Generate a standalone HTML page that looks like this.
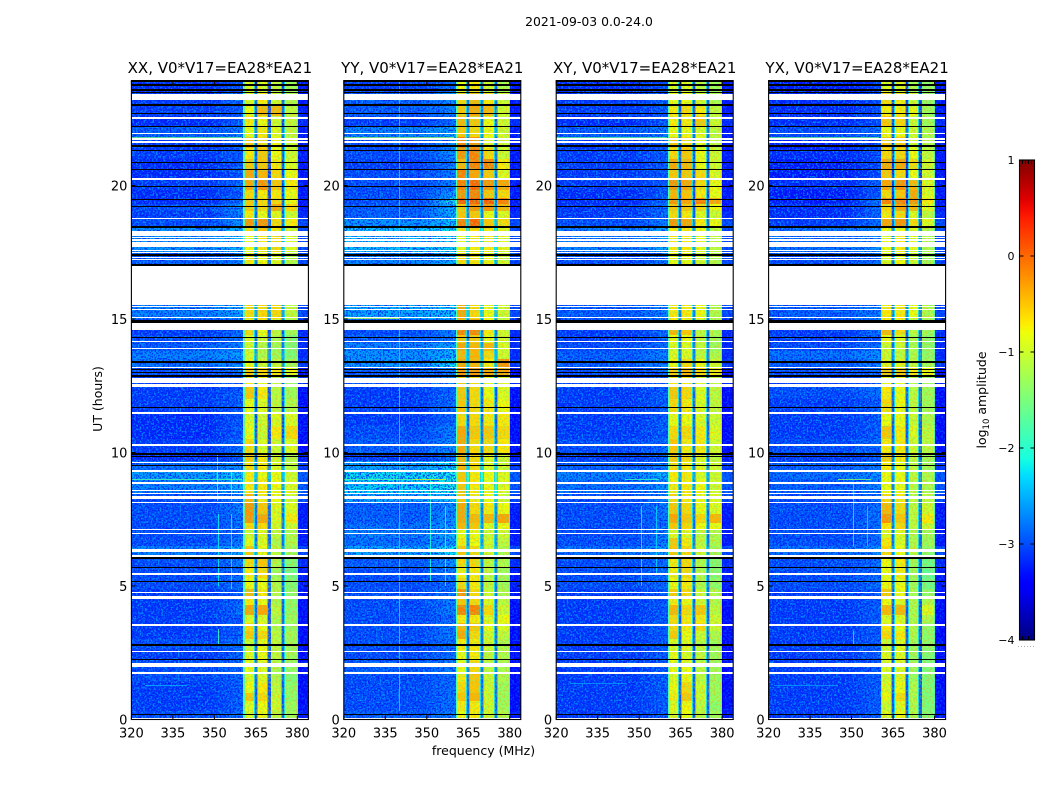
<!DOCTYPE html>
<html lang="en">
<head>
<meta charset="utf-8">
<title>2021-09-03 0.0-24.0</title>
<style>
html,body{margin:0;padding:0;background:#fff;}
svg{display:block;}
text{font-family:"DejaVu Sans","Liberation Sans",sans-serif;fill:#000;}
.cell,.stripe{shape-rendering:crispEdges;}
</style>
</head>
<body>
<svg id="figure" width="1050" height="800" viewBox="0 0 1050 800" xmlns="http://www.w3.org/2000/svg">
  <defs id="defs">
    <filter id="speckle-light" x="0" y="0" width="100%" height="100%" color-interpolation-filters="sRGB">
      <feTurbulence type="fractalNoise" baseFrequency="0.55" numOctaves="1" seed="4"/>
      <feColorMatrix type="matrix" values="0 0 0 0 0  0 0 0 0 0.62  0 0 0 0 1  10 0 0 0 -5"/>
    </filter>
    <filter id="speckle-dark" x="0" y="0" width="100%" height="100%" color-interpolation-filters="sRGB">
      <feTurbulence type="fractalNoise" baseFrequency="0.6" numOctaves="1" seed="11"/>
      <feColorMatrix type="matrix" values="0 0 0 0 0  0 0 0 0 0.1  0 0 0 0 0.95  0 10 0 0 -5"/>
    </filter>
    <filter id="speckle-warm" x="0" y="0" width="100%" height="100%" color-interpolation-filters="sRGB">
      <feTurbulence type="fractalNoise" baseFrequency="0.5" numOctaves="1" seed="23"/>
      <feColorMatrix type="matrix" values="0 0 0 0 1  0 0 0 0 0.6  0 0 0 0 0  10 0 0 0 -5"/>
    </filter>
    <filter id="speckle-green" x="0" y="0" width="100%" height="100%" color-interpolation-filters="sRGB">
      <feTurbulence type="fractalNoise" baseFrequency="0.5" numOctaves="1" seed="37"/>
      <feColorMatrix type="matrix" values="0 0 0 0 0.35  0 0 0 0 1  0 0 0 0 0.55  10 0 0 0 -5"/>
    </filter>
    <linearGradient id="colorbar-gradient" x1="0" y1="1" x2="0" y2="0"></linearGradient>
  </defs>
  <text x="589" y="26" font-size="12.4" text-anchor="middle">2021-09-03 0.0-24.0</text>
  <text x="0" y="0" font-size="12.5" text-anchor="middle" transform="translate(102,399) rotate(-90)">UT (hours)</text>
  <text x="483.5" y="755" font-size="12.5" text-anchor="middle">frequency (MHz)</text>
  <text x="0" y="0" font-size="12.5" text-anchor="middle" transform="translate(986,400) rotate(-90)">log<tspan font-size="8.5" dy="3">10</tspan><tspan dy="-3"> amplitude</tspan></text>
  <g id="panels"></g>
  <g id="colorbar"></g>
</svg>
<script>
// ---------- chart values (log10 amplitude, hours, MHz) ----------
const panelTitles = ["XX, V0*V17=EA28*EA21","YY, V0*V17=EA28*EA21","XY, V0*V17=EA28*EA21","YX, V0*V17=EA28*EA21"];
const freqTicks = [320,335,350,365,380];
const hourTicks = [0,5,10,15,20];
const colorbarTicks = [-4,-3,-2,-1,0,1];
const freqEdges = [320,348,360.5,365,370,375,380,384];
const notchFreqs = [365,370,375];
const hourEdges = [0,.3,.7,1,1.4,1.7,2.2,2.6,3,3.3,3.6,3.9,4.3,4.6,4.9,5.3,5.7,6.1,6.5,6.8,7.1,7.35,7.7,8.1,8.5,9,9.3,9.7,10,10.5,11,11.5,12,12.5,12.9,13.2,13.5,13.8,14.1,14.4,14.6,15,15.6,17,17.5,18.1,18.4,18.8,19.05,19.3,19.55,19.85,20.25,20.6,21,21.4,21.8,22.2,22.6,23,23.5,23.95];
// level above 380 MHz, shared by all panels, one per row
const edgeLevels = [-3.3,-3.4,-3.4,-3.4,-3.4,-3.4,-3.4,-3.4,-3.4,-3.4,-3.4,-3.4,-3.4,-3.4,-3.3,-3.3,-3.2,-3.0,-3.3,-3.3,-3.3,-3.3,-3.3,-3.0,-2.9,-2.9,-3.1,-3.3,-3.4,-3.4,-3.4,-3.4,-3.4,-3.2,-3.4,-3.1,-3.2,-3.2,-3.2,-3.2,-3.2,-3.0,-3.0,-3.0,-3.0,-3.0,-3.0,-3.2,-3.3,-3.3,-3.3,-3.3,-3.3,-3.3,-3.3,-3.3,-3.3,-3.2,-3.3,-3.3,-3.3];
// each row: below 348 MHz, at 360 MHz, then the four bands 360-365, 365-370, 370-375, 375-380
const rowsXX = [
[-3.0,-2.8,-.9,-.8,-1.1,-1.3],[-3.1,-2.9,-.9,-.8,-1.0,-1.3],[-3.1,-2.9,-.5,-.6,-1.0,-1.4],[-3.1,-2.9,-.8,-.7,-1.1,-1.4],
[-3.0,-2.9,-.9,-.9,-1.2,-1.5],[-3.0,-2.8,-.8,-.9,-1.2,-1.4],[-3.1,-2.9,-.9,-.8,-1.1,-1.3],[-3.0,-2.8,-1.0,-.8,-1.1,-1.3],
[-3.1,-2.9,-.5,-.6,-1.1,-1.3],[-3.1,-2.9,-.6,-.8,-1.2,-1.4],[-3.1,-2.9,-.9,-.9,-1.2,-1.3],[-3.1,-2.8,-.3,-.3,-1.1,-1.4],
[-3.1,-2.8,-.7,-.8,-1.2,-1.4],[-3.1,-2.9,-.4,-.7,-1.2,-1.4],[-3.0,-2.8,-.8,-.8,-1.2,-1.5],[-3.0,-2.8,-.7,-.6,-1.3,-1.6],
[-3.0,-2.7,-.6,-.5,-1.2,-1.5],[-2.7,-2.4,-.5,-.8,-1.1,-1.3],[-3.0,-2.7,-.8,-.9,-1.2,-1.2],[-3.0,-2.8,-1.0,-.9,-1.1,-1.2],
[-3.0,-2.8,-.6,-.6,-1.0,-1.0],[-3.0,-2.8,-.2,-.3,-.9,-.7],[-3.0,-2.7,-.2,-.5,-.9,-.9],[-3.0,-2.7,-.4,-.7,-.8,-1.0],
[-2.7,-2.4,-.7,-.7,-.8,-.9],[-2.55,-2.3,-.7,-.8,-.8,-1.0],[-2.8,-2.6,-.6,-.7,-.9,-1.1],[-3.2,-2.9,-.5,-.7,-1.0,-1.2],
[-3.1,-2.8,-.6,-.9,-1.0,-.9],[-3.2,-2.9,-.8,-1.0,-.7,-.6],[-3.2,-2.9,-.9,-1.0,-.9,-.9],[-3.1,-2.9,-.8,-.9,-1.1,-1.2],
[-3.1,-2.9,-.5,-.7,-1.1,-1.3],[-3.1,-2.9,-.7,-.8,-1.1,-1.4],[-3.0,-2.8,-.5,-.6,-.7,-.8],[-2.8,-2.6,-.8,-1.0,-1.1,-1.3],
[-2.7,-2.5,-1.0,-1.2,-1.3,-1.5],[-2.9,-2.7,-1.0,-1.2,-1.3,-1.5],[-3.0,-2.8,-.9,-1.0,-1.2,-1.5],[-3.1,-2.8,-.6,-.8,-1.1,-1.3],
[-3.0,-2.8,-.7,-.7,-1.0,-1.2],[-2.7,-2.5,-.6,-.6,-.6,-1.1],null,
[-2.9,-2.7,-.7,-.8,-.9,-1.2],[-2.6,-2.4,-.8,-.7,-.6,-.9],[-2.6,-2.4,-.6,-.5,-.7,-1.0],[-3.0,-2.6,-.2,-.2,-.6,-.7],
[-3.1,-2.7,-.7,-.8,-.9,-1.0],[-3.0,-2.6,-.5,-.6,-.3,-.6],[-3.2,-2.8,-.5,-.6,-.6,-.8],[-3.2,-2.9,-.6,-.7,-.7,-.8],
[-3.1,-2.8,-.3,-.2,-.5,-.7],[-3.2,-2.9,-.3,-.4,-.6,-.8],[-3.2,-2.9,-.5,-.5,-.7,-.9],[-3.1,-2.9,-.7,-.5,-.8,-1.0],
[-3.1,-2.9,-.5,-.6,-.8,-1.0],[-2.9,-2.7,-.8,-.7,-.9,-1.1],[-3.2,-2.9,-.7,-.8,-1.0,-1.1],[-3.1,-2.9,-.8,-.4,-.4,-1.1],
[-3.1,-2.8,-.9,-.7,-1.0,-1.2],[-3.2,-3.0,-.9,-.9,-1.1,-1.3],[-2.9,-2.6,-.5,-.5,-.7,-.9]];
const rowsYY = [
[-2.9,-2.7,-.8,-.7,-1.0,-1.2],[-3.0,-2.8,-.7,-.7,-1.0,-1.3],[-3.0,-2.8,-.5,-.4,-1.0,-1.3],[-3.0,-2.8,-.6,-.5,-1.0,-1.3],
[-3.0,-2.8,-.7,-.5,-1.0,-1.2],[-2.9,-2.7,-.8,-.6,-1.1,-1.2],[-3.0,-2.8,-.8,-.7,-1.1,-1.2],[-3.0,-2.8,-.7,-.7,-1.0,-1.2],
[-3.0,-2.7,-.3,-.6,-1.0,-1.1],[-3.0,-2.7,-.4,-.5,-.8,-.9],[-3.0,-2.8,-.7,-.7,-.9,-.8],[-3.0,-2.7,-.1,-.1,-.6,-1.0],
[-3.0,-2.7,-.5,-.6,-.9,-1.1],[-3.0,-2.8,-.2,-.6,-1.0,-1.2],[-3.0,-2.8,-.6,-.7,-1.1,-1.3],[-3.0,-2.7,-.7,-.7,-1.1,-1.3],
[-2.9,-2.6,-.6,-.6,-1.1,-1.2],[-2.5,-2.2,-.5,-.6,-1.0,-1.2],[-2.8,-2.5,-.7,-.8,-1.0,-1.1],[-2.7,-2.4,-.8,-.8,-1.0,-1.0],
[-2.8,-2.5,-.4,-.5,-.9,-.8],[-2.9,-2.6,-.3,-.4,-.4,-.3],[-2.9,-2.6,-.3,-.6,-.7,-.8],[-2.5,-2.3,-.5,-.7,-.8,-1.0],
[-2.25,-2.1,-.5,-.7,-.8,-.9],[-2.2,-2.1,-.5,-.7,-.8,-.9],[-2.5,-2.2,-.4,-.6,-.9,-1.0],[-3.1,-2.8,-.4,-.6,-.9,-1.0],
[-2.9,-2.6,-.3,-.6,-.6,-.7],[-3.0,-2.7,-.3,-.5,-.5,-.6],[-3.1,-2.8,-.6,-.6,-.7,-.7],[-3.1,-2.8,-.5,-.6,-.7,-.8],
[-3.1,-2.8,-.5,-.6,-.8,-.9],[-2.9,-2.6,-.5,-.6,-.8,-.9],[-2.9,-2.7,-.2,-.2,-.3,-.3],[-2.6,-2.2,-.3,-.4,-.7,-.2],
[-2.6,-2.4,-.4,-.4,-.6,-1.0],[-2.7,-2.5,-.3,-.4,-.4,-.9],[-2.9,-2.7,-.5,-.5,-.8,-1.0],[-3.0,-2.7,-.1,-.1,-.7,-1.0],
[-2.9,-2.6,-.4,-.3,-.8,-1.0],[-2.5,-2.3,-.3,-.6,-.8,-1.0],null,
[-2.7,-2.4,-.6,-.7,-.8,-1.0],[-2.35,-2.2,-.8,-.7,-.7,-.9],[-2.3,-2.2,-.7,-.6,-.7,-.9],[-2.6,-2.3,-.1,.05,-.5,-.6],
[-2.9,-2.4,-.5,-.5,-.8,-.9],[-2.9,-2.4,-.5,-.2,-.2,-.4],[-3.0,-2.1,.1,.1,.1,-.1],[-3.0,-2.5,-.2,-.1,-.5,-.6],
[-3.0,-2.7,-.1,.05,-.2,-.3],[-3.0,-2.7,-.1,-.3,-.5,-.9],[-3.1,-2.7,-.4,-.1,-.1,-.7],[-3.0,-2.6,-.2,-.1,-.6,-1.0],
[-3.0,-2.6,-.1,-.2,-.9,-1.0],[-2.7,-2.5,-.5,-.6,-.8,-1.0],[-3.1,-2.8,-.4,-.5,-.8,-1.0],[-2.9,-2.7,-.5,-.3,-.4,-1.0],
[-2.9,-2.6,-.6,-.4,-.7,-1.0],[-3.1,-2.8,-.8,-.7,-1.0,-1.2],[-2.6,-2.3,-.1,.1,-.2,-.6]];
const rowsXY = [
[-3.1,-2.9,-.9,-.8,-1.1,-1.3],[-3.1,-2.9,-.9,-.8,-1.1,-1.4],[-3.1,-2.9,-.7,-.5,-1.0,-1.3],[-3.1,-2.9,-.8,-.6,-1.0,-1.3],
[-3.1,-2.9,-.9,-.8,-1.1,-1.3],[-3.1,-2.9,-.8,-.8,-1.1,-1.3],[-3.1,-2.9,-.8,-.9,-1.1,-1.3],[-3.1,-2.9,-.9,-.9,-1.1,-1.3],
[-3.1,-2.9,-.5,-.8,-1.0,-1.2],[-3.1,-2.9,-.6,-.7,-.6,-1.0],[-3.1,-2.9,-.6,-.7,-.7,-1.0],[-3.1,-2.9,-.4,-.6,-.5,-1.1],
[-3.1,-2.9,-.7,-.8,-1.0,-1.2],[-3.1,-2.9,-.5,-.6,-1.0,-1.2],[-3.0,-2.8,-.8,-.7,-1.2,-1.4],[-3.0,-2.8,-.7,-.6,-1.2,-1.5],
[-3.0,-2.8,-.7,-.6,-1.2,-1.5],[-2.8,-2.5,-.5,-.6,-1.0,-1.3],[-3.0,-2.7,-.5,-.7,-1.1,-1.2],[-3.0,-2.7,-.9,-.9,-1.1,-1.2],
[-3.0,-2.8,-.5,-.6,-.8,-.8],[-3.0,-2.8,-.3,-.5,-.6,-.4],[-3.0,-2.7,-.5,-.6,-.8,-.9],[-3.0,-2.7,-.6,-.7,-.8,-.9],
[-2.8,-2.6,-.7,-.7,-.8,-1.0],[-2.7,-2.4,-.7,-.7,-.9,-1.0],[-2.9,-2.7,-.6,-.7,-.9,-1.0],[-3.1,-2.9,-.5,-.6,-.9,-1.1],
[-3.0,-2.8,-.5,-.7,-.7,-1.0],[-3.1,-2.9,-.6,-.6,-.7,-.9],[-3.1,-2.9,-.8,-.8,-.9,-1.0],[-3.1,-2.9,-.6,-.7,-.9,-1.1],
[-3.1,-2.9,-.5,-.6,-.9,-1.1],[-3.1,-2.9,-.7,-.7,-.9,-1.1],[-3.0,-2.8,-.5,-.4,-.6,-.7],[-2.9,-2.7,-.8,-.6,-.8,-1.0],
[-2.9,-2.7,-.9,-.9,-1.1,-1.2],[-3.0,-2.8,-.9,-.9,-1.1,-1.3],[-3.1,-2.9,-.8,-.8,-1.1,-1.3],[-3.1,-2.8,-.4,-.5,-1.1,-1.2],
[-3.0,-2.8,-.7,-.8,-1.1,-1.3],[-2.9,-2.7,-.7,-.7,-.8,-1.2],null,
[-3.0,-2.8,-.8,-.8,-1.0,-1.2],[-2.7,-2.5,-.7,-.7,-.8,-1.1],[-2.7,-2.5,-.7,-.7,-.8,-1.1],[-3.0,-2.7,-.2,-.3,-.7,-.8],
[-3.1,-2.8,-.6,-.7,-.9,-1.0],[-3.1,-2.8,-.5,-.5,-.6,-.8],[-3.2,-2.8,-.2,-.3,-.1,-.3],[-3.2,-2.9,-.4,-.5,-.7,-.8],
[-3.1,-2.9,-.2,-.3,-.6,-.8],[-3.1,-2.9,-.5,-.5,-.6,-.9],[-3.1,-2.9,-.3,-.4,-.8,-1.0],[-3.1,-2.9,-.6,-.5,-.8,-1.0],
[-3.1,-2.9,-.5,-.6,-.9,-1.1],[-2.9,-2.7,-.8,-.8,-.9,-1.1],[-3.2,-2.9,-.7,-.7,-.5,-1.0],[-3.1,-2.9,-.7,-.6,-.7,-1.1],
[-3.1,-2.9,-.8,-.8,-1.0,-1.2],[-3.2,-3.0,-.9,-.9,-1.1,-1.3],[-3.0,-2.8,-.5,-.5,-.8,-1.0]];
const rowsYX = [
[-3.1,-2.9,-.9,-.8,-1.2,-1.5],[-3.1,-2.9,-1.0,-.9,-1.2,-1.5],[-3.1,-2.9,-.8,-.6,-1.2,-1.5],[-3.1,-2.9,-.9,-.8,-1.2,-1.5],
[-3.1,-2.9,-1.0,-.9,-1.3,-1.5],[-3.1,-2.9,-.9,-.9,-1.3,-1.5],[-3.1,-2.9,-.9,-.9,-1.3,-1.5],[-3.1,-2.9,-1.0,-.9,-1.3,-1.4],
[-3.1,-2.9,-.6,-.7,-1.2,-1.4],[-3.1,-2.9,-.7,-.8,-1.2,-1.4],[-3.1,-2.9,-.9,-.9,-1.2,-1.2],[-3.1,-2.9,-.4,-.4,-1.2,-.9],
[-3.1,-2.9,-.8,-.9,-1.2,-1.2],[-3.1,-2.9,-.5,-.8,-1.2,-1.4],[-3.0,-2.8,-.8,-.8,-1.3,-1.6],[-3.0,-2.8,-.8,-.7,-1.3,-1.7],
[-3.0,-2.8,-.8,-.7,-1.3,-1.6],[-2.8,-2.6,-.6,-.8,-1.1,-1.4],[-3.0,-2.8,-.7,-.9,-1.2,-1.3],[-3.0,-2.8,-.9,-.9,-1.2,-1.3],
[-3.0,-2.8,-.7,-.6,-1.1,-1.0],[-3.0,-2.8,-.2,-.5,-1.1,-.7],[-3.0,-2.8,-.4,-.6,-1.1,-1.0],[-3.0,-2.8,-.6,-.7,-1.1,-1.1],
[-2.9,-2.7,-.8,-.8,-1.1,-1.2],[-2.8,-2.6,-.8,-.8,-1.1,-1.2],[-2.9,-2.7,-.7,-.8,-1.1,-1.3],[-3.1,-2.9,-.5,-.7,-1.1,-1.3],
[-3.0,-2.8,-.7,-.7,-1.0,-1.1],[-3.1,-2.9,-.5,-.7,-.9,-1.1],[-3.1,-2.9,-.8,-.8,-1.0,-1.2],[-3.1,-2.9,-.6,-.8,-1.1,-1.3],
[-3.0,-2.8,-.7,-.8,-1.1,-1.3],[-3.1,-2.9,-.8,-.8,-1.1,-1.3],[-3.0,-2.8,-.5,-.5,-.7,-.8],[-2.9,-2.7,-.9,-.9,-1.1,-1.3],
[-2.8,-2.6,-1.0,-1.1,-1.2,-1.4],[-3.0,-2.8,-1.0,-1.0,-1.2,-1.4],[-3.1,-2.9,-.8,-.9,-1.2,-1.4],[-3.1,-2.8,-.4,-.6,-1.1,-1.3],
[-3.0,-2.8,-.7,-.8,-1.1,-1.3],[-2.9,-2.7,-.7,-.7,-.8,-1.2],null,
[-3.0,-2.8,-.9,-.8,-1.0,-1.3],[-2.8,-2.6,-.8,-.7,-.8,-1.2],[-2.8,-2.6,-.8,-.8,-.9,-1.2],[-3.1,-2.8,-.3,-.2,-.6,-.9],
[-3.2,-2.8,-.7,-.6,-.9,-1.1],[-3.2,-2.8,-.6,-.3,-.4,-.9],[-3.3,-2.7,-.1,-.1,-.2,-.7],[-3.3,-2.9,-.6,-.5,-.3,-.9],
[-3.2,-2.9,-.3,-.2,-.4,-.9],[-3.3,-3.0,-.5,-.6,-.8,-1.0],[-3.3,-3.0,-.3,-.3,-.6,-1.0],[-3.2,-3.0,-.6,-.6,-.8,-1.1],
[-3.3,-3.0,-.5,-.5,-.9,-1.2],[-3.0,-2.8,-.8,-.8,-1.0,-1.2],[-3.2,-3.0,-.5,-.6,-1.0,-1.3],[-3.2,-3.0,-.7,-.7,-.8,-1.3],
[-3.2,-3.0,-.6,-.7,-1.0,-1.4],[-3.3,-3.1,-.9,-.9,-1.2,-1.4],[-3.1,-2.9,-.5,-.6,-.8,-1.2]];
const panelRows = [rowsXX,rowsYY,rowsXY,rowsYX];
// flagged (blank) and dropped (zero) time ranges, start and end hour
const flaggedRanges = [[.02,.07],[1.72,1.77],[1.96,2.13],[2.53,2.58],[3.51,3.56],[4.5,4.62],[4.74,4.79],[5.42,5.47],[6.09,6.16],[6.27,6.37],[6.95,7],[7.1,7.15],[8.09,8.14],[8.25,8.38],[8.44,8.47],[8.55,8.6],[8.83,8.88],[9.27,9.35],[9.61,9.66],[10.25,10.3],[11.45,11.5],[12.46,12.55],[12.62,12.79],[13.17,13.22],[13.88,13.93],[14.12,14.17],[14.58,14.62],[14.64,14.86],[15.04,15.09],[15.32,15.37],[15.46,15.5],[15.54,17],[17.2,17.24],[17.28,17.34],[17.46,17.5],[17.56,17.6],[17.71,17.9],[17.92,17.95],[17.97,18],[18.04,18.07],[18.11,18.3],[18.75,18.8],[20.19,20.27],[21.6,21.65],[21.72,21.77],[21.92,21.97],[22.5,22.55],[23.2,23.41]];
const droppedRanges = [[.17,.22],[2.23,2.28],[2.76,2.81],[5.15,5.2],[5.68,5.73],[6,6.07],[9.5,9.55],[9.82,9.87],[9.92,9.97],[11.67,11.72],[12.82,12.89],[12.97,13.03],[13.09,13.13],[13.36,13.41],[14.28,14.33],[14.86,14.95],[17,17.07],[17.37,17.42],[18.39,18.48],[19.2,19.25],[19.44,19.49],[19.94,19.99],[20.58,20.63],[20.83,20.88],[21.28,21.33],[21.45,21.5],[22.18,22.23],[22.68,22.73],[22.99,23.04],[23.47,23.52],[23.55,23.6],[23.74,23.79],[23.88,23.93]];
// narrow interference: panel, frequency, start hour, end hour, level
const rfiChannels = [[0,351.4,2.8,3.4,-1.9],[0,351.4,5,7.7,-2.2],[0,356,4.9,7.7,-2.2],[0,351,8.2,10,-2],[0,356,8.2,9.3,-2],
[1,339.9,.3,15.5,-2.3],[1,339.9,17.1,23.9,-2.3],[1,351,5.2,9,-2.1],[1,356.5,5,8,-2.1],
[2,350.5,5,8,-2.2],[2,356,5.5,8,-2.3],[3,350.6,6.5,8.9,-2.2],[3,355.6,6.5,8,-2.3],[3,350.6,2.8,3.3,-2.2]];
// narrow time streaks: panel, start MHz, end MHz, hour, level
const rfiStreaks = [[0,320,360,8.97,-1.8],[1,320,345,8.97,-1.7],[1,345,357,8.97,-.9],[3,345,357,8.97,-1.4],[2,345,357,8.97,-1.9],
[1,320,340,15,-1.2],[0,320,360,21.78,-1.6],[1,320,360,21.78,-1.4],[2,320,360,21.78,-1.7],[3,320,360,21.78,-1.6],
[0,325,340,1.28,-2.5],[2,325,345,1.35,-2.6],[3,322,345,1.28,-2.6]];

// ---------- scales ----------
const SVGNS = "http://www.w3.org/2000/svg";
const panelWidth = 177, pxPerMHz = panelWidth/64, pxPerHour = 26.7, axisBottom = 719.5, hourMax = 23.93;
function panelLeft(i){ return 131.4 + i*212.4; }
function xScale(i,f){ return panelLeft(i) + (f-320)*pxPerMHz; }
function yScale(h){ return axisBottom - h*pxPerHour; }
function cbarY(v){ return 640 - (v+4)*96; }
function lerp(pts,t){
  for(let k=1;k<pts.length;k++){
    if(t<=pts[k][0]){
      const a=pts[k-1],b=pts[k];
      return a[1]+(b[1]-a[1])*(t-a[0])/(b[0]-a[0]);
    }
  }
  return pts[pts.length-1][1];
}
function jet(v){
  const t=Math.max(0,Math.min(1,(v+4)/5));
  const r=lerp([[0,0],[.35,0],[.66,1],[.89,1],[1,.5]],t);
  const g=lerp([[0,0],[.125,0],[.375,1],[.64,1],[.91,0],[1,0]],t);
  const b=lerp([[0,.5],[.11,1],[.34,1],[.65,0],[1,0]],t);
  return "rgb("+Math.round(r*255)+","+Math.round(g*255)+","+Math.round(b*255)+")";
}
function mk(tag,attrs,parent){
  const el=document.createElementNS(SVGNS,tag);
  for(const k in attrs){ el.setAttribute(k,attrs[k]); }
  parent.appendChild(el);
  return el;
}
function pixelBox(x0,x1,h0,h1){
  const x=Math.round(x0), w=Math.max(1,Math.round(x1)-x);
  const y=Math.round(yScale(h1)), hh=Math.max(1,Math.round(yScale(h0))-y);
  return {x:x,y:y,width:w,height:hh};
}
const defsEl=document.getElementById("defs");
function rampFill(i,r,from,to){
  const id="ramp-"+i+"-"+r;
  const g=mk("linearGradient",{id:id,x1:0,y1:0,x2:1,y2:0},defsEl);
  mk("stop",{offset:"0%","stop-color":jet(from)},g);
  mk("stop",{offset:"100%","stop-color":jet(to)},g);
  return "url(#"+id+")";
}

// ---------- panels ----------
const panelsRoot=document.getElementById("panels");
panelTitles.forEach(function(title,i){
  const g=mk("g",{},panelsRoot);
  
  
  const rows=panelRows[i];

  // heatmap cells
  rows.forEach(function(row,r){
    if(!row) return;
    const h0=hourEdges[r], h1=hourEdges[r+1];
    const levels=row.concat([edgeLevels[r]]);
    levels.forEach(function(v,c){
      const box=pixelBox(xScale(i,freqEdges[c]),xScale(i,freqEdges[c+1]),h0,h1);
      const fill=(c===1)?rampFill(i,r,row[0],v):jet(v);
      const cell=mk("rect",{x:box.x,y:box.y,width:box.width,height:box.height,fill:fill,"class":"cell"},g);
      
      
    });
    // band edges and notches follow the row level
    const notchLevel=row[0]+.1;
    notchFreqs.forEach(function(f){
      const outer=pixelBox(xScale(i,f-.8),xScale(i,f+.6),h0,h1);
      const side=mk("rect",{x:outer.x,y:outer.y,width:outer.width,height:outer.height,fill:jet(-2.3),"class":"cell"},g);
      
      
      const inner=pixelBox(xScale(i,f-.45),xScale(i,f+.3),h0,h1);
      const core=mk("rect",{x:inner.x,y:inner.y,width:inner.width,height:inner.height,fill:jet(notchLevel),"class":"cell"},g);
      
      
    });
    [360.5,379.7].forEach(function(f){
      const e=pixelBox(xScale(i,f),xScale(i,f+.4),h0,h1);
      const bandEdge=mk("rect",{x:e.x,y:e.y,width:e.width,height:e.height,fill:jet(-1.8),"class":"cell"},g);
      
      
    });
  });

  // receiver noise texture
  [[320,360.5,"speckle-light",.75],[320,360.5,"speckle-dark",.75],[380.2,384,"speckle-light",.4],[380.2,384,"speckle-dark",.7],[360.8,380,"speckle-warm",.3],[360.8,380,"speckle-green",.3]].forEach(function(s){
    const box=pixelBox(xScale(i,s[0]),xScale(i,s[1]),0,hourMax);
    const tex=mk("rect",{x:box.x,y:box.y,width:box.width,height:box.height,filter:"url(#"+s[2]+")",opacity:s[3]},g);
    
    
  });

  // interference
  rfiChannels.forEach(function(d){
    if(d[0]!==i) return;
    const box=pixelBox(xScale(i,d[1]),xScale(i,d[1]+.35),d[2],d[3]);
    const line=mk("rect",{x:box.x,y:box.y,width:box.width,height:box.height,fill:jet(d[4]),"class":"cell",opacity:.85},g);
    
    
  });
  rfiStreaks.forEach(function(d){
    if(d[0]!==i) return;
    const box=pixelBox(xScale(i,d[1]),xScale(i,d[2]),d[3],d[3]+.03);
    const line=mk("rect",{x:box.x,y:box.y,width:box.width,height:box.height,fill:jet(d[4]),"class":"cell",opacity:.8},g);
    
    
  });

  // dropped and flagged time ranges
  droppedRanges.forEach(function(d){
    const box=pixelBox(xScale(i,320),xScale(i,384),d[0],d[1]);
    const s=mk("rect",{x:box.x,y:box.y,width:box.width,height:box.height,fill:"#000","class":"stripe"},g);
    
    
  });
  flaggedRanges.forEach(function(d){
    const box=pixelBox(xScale(i,320),xScale(i,384),d[0],d[1]);
    const s=mk("rect",{x:box.x,y:box.y,width:box.width,height:box.height,fill:"#fff","class":"stripe"},g);
    
    
  });

  // frame
  const left=xScale(i,320), right=xScale(i,384), top=yScale(hourMax), bottom=yScale(0);
  const frame=mk("rect",{x:left,y:top,width:right-left,height:bottom-top,fill:"none",stroke:"#000","stroke-width":1.1},g);
  
  

  // ticks
  freqTicks.forEach(function(f){
    const x=xScale(i,f);
    const t1=mk("line",{x1:x,x2:x,y1:bottom,y2:bottom-4,stroke:"#000","stroke-width":1},g);
    
    
    const t2=mk("line",{x1:x,x2:x,y1:top,y2:top+4,stroke:"#000","stroke-width":1},g);
    
    
    const lab=mk("text",{x:x,y:bottom+18,"font-size":13,"text-anchor":"middle"},g);
    lab.textContent=String(f);
    
    
  });
  hourTicks.forEach(function(h){
    const y=yScale(h);
    const t1=mk("line",{x1:left,x2:left+4,y1:y,y2:y,stroke:"#000","stroke-width":1},g);
    
    
    const t2=mk("line",{x1:right,x2:right-4,y1:y,y2:y,stroke:"#000","stroke-width":1},g);
    
    
    const lab=mk("text",{x:left-4,y:y+5,"font-size":13,"text-anchor":"end"},g);
    lab.textContent=String(h);
    
    
  });

  // title
  const tt=mk("text",{x:(left+right)/2,y:73,"font-size":15,"text-anchor":"middle"},g);
  tt.textContent=title;
  
  
});

// ---------- colour bar ----------
const grad=document.getElementById("colorbar-gradient");
for(let k=0;k<=50;k++){
  mk("stop",{offset:(k*2)+"%","stop-color":jet(-4+k/10)},grad);
}
const cb=document.getElementById("colorbar");
const cbLeft=1019.5, cbRight=1034.5;
const bar=mk("rect",{x:cbLeft,y:cbarY(1),width:cbRight-cbLeft,height:cbarY(-4)-cbarY(1),fill:"url(#colorbar-gradient)",stroke:"#000","stroke-width":1.1},cb);


colorbarTicks.forEach(function(v){
  const y=cbarY(v);
  const a=mk("line",{x1:cbLeft,x2:cbLeft+4,y1:y,y2:y,stroke:"#000","stroke-width":1},cb);
  
  
  const b=mk("line",{x1:cbRight,x2:cbRight-4,y1:y,y2:y,stroke:"#000","stroke-width":1},cb);
  
  
  const lab=mk("text",{x:cbLeft-5,y:y+4,"font-size":11,"text-anchor":"end"},cb);
  lab.textContent=String(v).replace("-","\u2212");
  
  
});
for(let k=0;k<6;k++){
  const x=cbLeft+k*3;
  const a=mk("line",{x1:x,x2:x,y1:cbarY(1),y2:cbarY(1)+4,stroke:"#000","stroke-width":1},cb);
  
  
  const b=mk("line",{x1:x,x2:x,y1:cbarY(-4),y2:cbarY(-4)-4,stroke:"#000","stroke-width":1},cb);
  
  
}
const dots=mk("text",{x:(cbLeft+cbRight)/2-.5,y:647,"font-size":5,"text-anchor":"middle","letter-spacing":"1.4px",fill:"#555"},cb);
dots.textContent="......";


</script>
</body>
</html>
